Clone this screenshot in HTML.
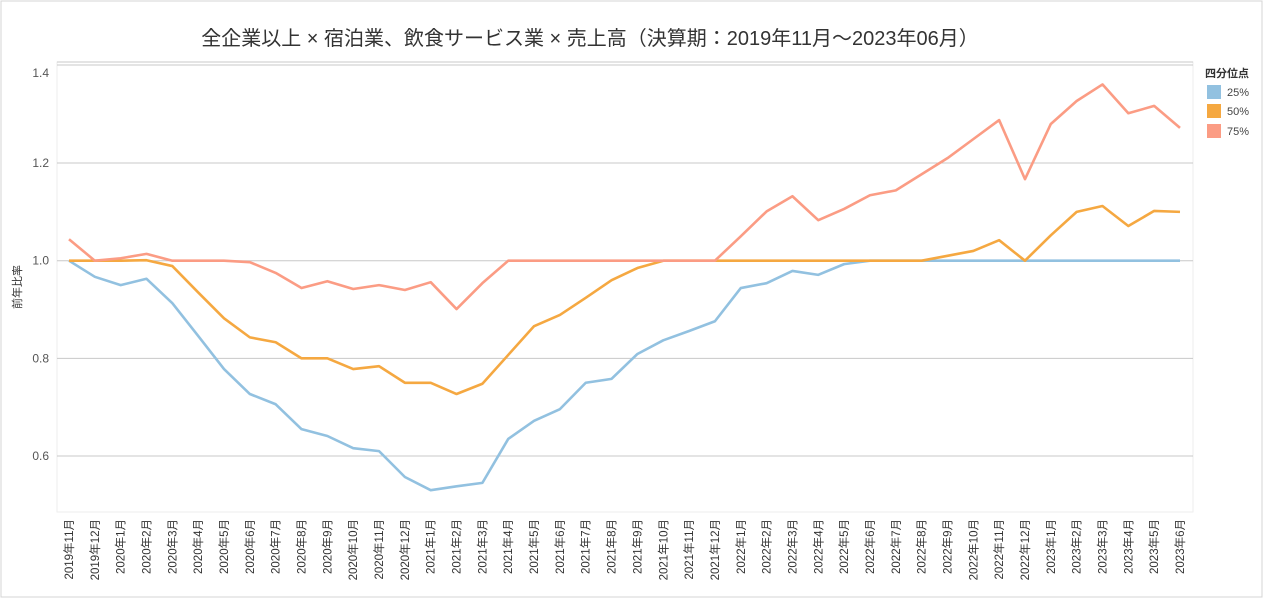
<!DOCTYPE html>
<html><head><meta charset="utf-8"><style>
body{margin:0;background:#fff;}
svg{display:block;font-family:"Liberation Sans","Noto Sans CJK JP",sans-serif;}
</style></head><body>
<svg id="chart" width="1266" height="600">
<rect x="1" y="1" width="1261" height="596" fill="#fff" stroke="#d4d4d4"/>
<text x="590" y="45" text-anchor="middle" font-size="20" fill="#333">全企業以上 × 宿泊業、飲食サービス業 × 売上高（決算期：2019年11月〜2023年06月）</text>
<text transform="translate(21,287) rotate(-90)" text-anchor="middle" font-size="11" fill="#333">前年比率</text>
<g id="grid"></g>
<g id="series"></g>
<g id="xlabels"></g>
<g>
<text x="1205" y="77" font-size="11" font-weight="bold" fill="#333">四分位点</text>
<rect x="1207" y="85" width="14" height="14" fill="#92c1e0"/>
<text x="1227" y="96" font-size="11" fill="#444">25%</text>
<rect x="1207" y="104" width="14" height="14" fill="#f5a841"/>
<text x="1227" y="115" font-size="11" fill="#444">50%</text>
<rect x="1207" y="124" width="14" height="14" fill="#fb9c84"/>
<text x="1227" y="135" font-size="11" fill="#444">75%</text>
</g>
</svg>
<script>
const categories=["2019年11月","2019年12月","2020年1月","2020年2月","2020年3月","2020年4月","2020年5月","2020年6月","2020年7月","2020年8月","2020年9月","2020年10月","2020年11月","2020年12月","2021年1月","2021年2月","2021年3月","2021年4月","2021年5月","2021年6月","2021年7月","2021年8月","2021年9月","2021年10月","2021年11月","2021年12月","2022年1月","2022年2月","2022年3月","2022年4月","2022年5月","2022年6月","2022年7月","2022年8月","2022年9月","2022年10月","2022年11月","2022年12月","2023年1月","2023年2月","2023年3月","2023年4月","2023年5月","2023年6月"];
const q25=[1.0,0.967,0.95,0.963,0.913,0.846,0.778,0.727,0.706,0.655,0.641,0.616,0.61,0.557,0.53,0.538,0.545,0.635,0.672,0.696,0.75,0.758,0.809,0.837,0.856,0.876,0.944,0.954,0.979,0.971,0.993,1.0,1.0,1.0,1.0,1.0,1.0,1.0,1.0,1.0,1.0,1.0,1.0,1.0];
const q50=[1.0,1.0,1.0,1.001,0.989,0.935,0.882,0.843,0.833,0.8,0.8,0.778,0.784,0.75,0.75,0.727,0.748,0.807,0.866,0.889,0.924,0.96,0.985,1.0,1.0,1.0,1.0,1.0,1.0,1.0,1.0,1.0,1.0,1.0,1.01,1.02,1.042,1.0,1.052,1.1,1.112,1.071,1.102,1.1];
const q75=[1.044,1.0,1.005,1.014,1.0,1.0,1.0,0.997,0.975,0.944,0.958,0.942,0.95,0.94,0.956,0.901,0.954,1.0,1.0,1.0,1.0,1.0,1.0,1.0,1.0,1.0,1.05,1.101,1.132,1.083,1.106,1.134,1.144,1.177,1.21,1.249,1.288,1.167,1.28,1.327,1.361,1.302,1.317,1.272];
const yTicks=[0.6,0.8,1.0,1.2,1.4];
const yTickLabels=["0.6","0.8","1.0","1.2","1.4"];
const NS="http://www.w3.org/2000/svg";
const X=i=>69+i*(1180-69)/(categories.length-1);
const Y=v=>260.7-(v-1)*488.3;
const grid=document.getElementById('grid');
function mk(t,a,p){const e=document.createElementNS(NS,t);for(const k in a)e.setAttribute(k,a[k]);p.appendChild(e);return e;}
let frame=mk('rect',{x:57,y:62,width:1136,height:450,fill:'none',stroke:'#eeeeee'},grid);


let tl=mk('line',{x1:57,x2:1193,y1:62,y2:62,stroke:'#c8c8c8'},grid);


let tl2=mk('line',{x1:57,x2:1193,y1:65,y2:65,stroke:'#c8c8c8'},grid);


yTicks.forEach((v,i)=>{
  if(v<1.3){
  const l=mk('line',{x1:57,x2:1193,y1:Y(v),y2:Y(v),stroke:'#c8c8c8'},grid);
  
  }
  const ty=Math.max(Y(v)+4,77);
  const t=mk('text',{x:49,y:ty,'text-anchor':'end','font-size':12,fill:'#555'},grid);
  t.textContent=yTickLabels[i];
  
  
});
const sg=document.getElementById('series');
[[q25,'#92c1e0','line-25'],[q50,'#f5a841','line-50'],[q75,'#fb9c84','line-75']].forEach(([d,c,n])=>{
  const p=mk('polyline',{points:d.map((v,i)=>X(i)+','+Y(v)).join(' '),fill:'none',stroke:c,'stroke-width':2.6,'stroke-linejoin':'round'},sg);
  
  
});
const xl=document.getElementById('xlabels');
categories.forEach((c,i)=>{
  const t=mk('text',{transform:`translate(${X(i)+4},519) rotate(-90)`,'text-anchor':'end','font-size':11.5,fill:'#333'},xl);
  t.textContent=c;
  
  
});
</script>
</body></html>
